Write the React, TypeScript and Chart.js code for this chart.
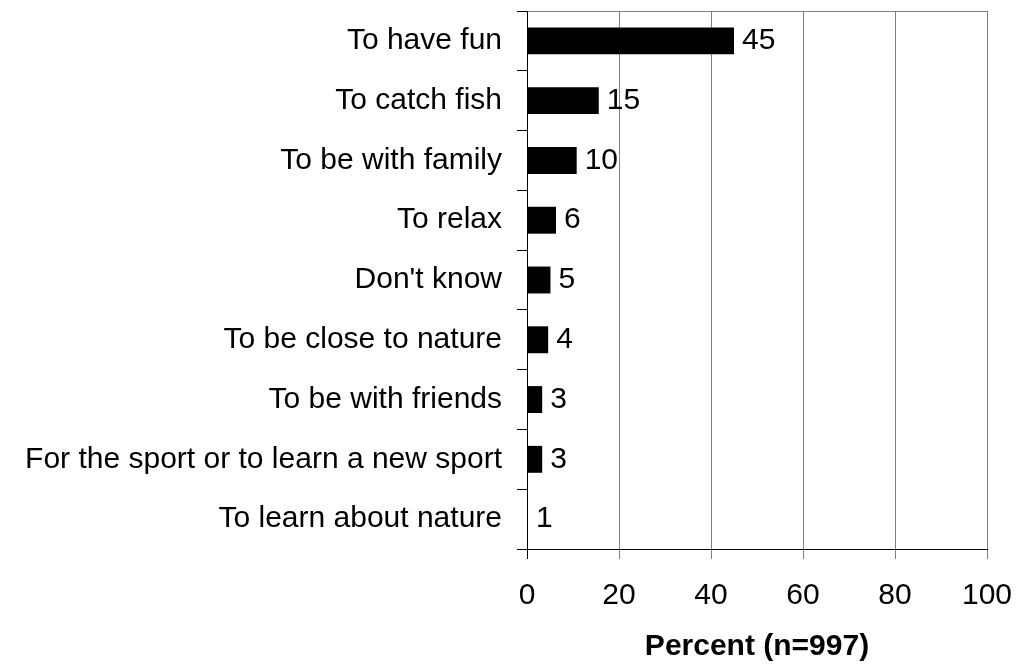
import React, { useEffect, useRef } from "react";
import { Chart, registerables } from "chart.js";

Chart.register(...registerables);

const categories = [
  "To have fun",
  "To catch fish",
  "To be with family",
  "To relax",
  "Don't know",
  "To be close to nature",
  "To be with friends",
  "For the sport or to learn a new sport",
  "To learn about nature",
];

// bar lengths as drawn (percent)
const barValues = [45.0, 15.6, 10.8, 6.3, 5.1, 4.6, 3.3, 3.3, 0.2];
// printed value labels
const valueLabels = ["45", "15", "10", "6", "5", "4", "3", "3", "1"];

const xTicks = [0, 20, 40, 60, 80, 100];
const xTitle = "Percent (n=997)";

const FONT = "'Liberation Sans', Arial, Helvetica, sans-serif";
const GRID = "#808080";

const valueLabelPlugin = {
  id: "valueLabels",
  afterDatasetsDraw(chart: any) {
    const ctx = chart.ctx;
    const meta = chart.getDatasetMeta(0);
    ctx.save();
    ctx.font = `30px ${FONT}`;
    ctx.fillStyle = "#000";
    ctx.textAlign = "left";
    ctx.textBaseline = "middle";
    meta.data.forEach((el: any, i: number) => {
      ctx.fillText(valueLabels[i], el.x + 8, el.y);
    });
    ctx.restore();
  },
};

const zeroPadding = (scale: any) => {
  scale.paddingTop = 0;
  scale.paddingBottom = 0;
  scale.paddingLeft = 0;
  scale.paddingRight = 0;
};

export default function App() {
  const ref = useRef<HTMLCanvasElement | null>(null);

  useEffect(() => {
    if (!ref.current) return;
    Chart.defaults.font.family = FONT;
    Chart.defaults.color = "#000";
    const chart = new Chart(ref.current, {
      type: "bar",
      data: {
        labels: categories,
        datasets: [
          {
            data: barValues,
            backgroundColor: "#000",
            borderWidth: 0,
            barPercentage: 0.45,
            categoryPercentage: 1,
          },
        ],
      },
      options: {
        indexAxis: "y",
        responsive: false,
        animation: false,
        devicePixelRatio: 1,
        layout: { padding: { top: 11, right: 31, bottom: 0, left: 0 } },
        plugins: {
          legend: { display: false },
          tooltip: { enabled: false },
          title: { display: false },
        },
        scales: {
          x: {
            type: "linear",
            min: 0,
            max: 100,
            afterFit: (scale: any) => {
              scale.height = 116;
              zeroPadding(scale);
            },
            afterBuildTicks: (scale: any) => {
              scale.ticks = xTicks.map((v) => ({ value: v }));
            },
            ticks: {
              font: { size: 30 },
              color: "#000",
              padding: 19,
              maxRotation: 0,
              autoSkip: false,
            },
            grid: {
              color: (c: any) => (c.index === 0 ? "#000" : GRID),
              tickColor: (c: any) => (c.index === 0 ? "#000" : GRID),
              tickLength: 10,
              lineWidth: 1,
            },
            border: { display: true, color: "#000", width: 1 },
            title: {
              display: true,
              text: xTitle,
              font: { size: 30, weight: "bold" },
              color: "#000",
              padding: { top: 0, bottom: 0 },
            },
          },
          y: {
            type: "category",
            offset: true,
            afterFit: (scale: any) => {
              scale.width = 527;
              zeroPadding(scale);
            },
            ticks: {
              font: { size: 30 },
              color: "#000",
              padding: 15,
              autoSkip: false,
            },
            grid: {
              offset: true,
              drawOnChartArea: true,
              color: (c: any) => (c.index === 0 ? GRID : "rgba(0,0,0,0)"),
              tickColor: "#000",
              tickLength: 10,
              lineWidth: 1,
            },
            border: { display: true, color: "#000", width: 1 },
          },
        },
      },
      plugins: [valueLabelPlugin],
    } as any);
    return () => chart.destroy();
  }, []);

  return (
    <div
      style={{
        position: "fixed",
        left: 0,
        top: 0,
        width: 1018,
        height: 665,
        background: "#fff",
      }}
    >
      <canvas ref={ref} width={1018} height={665} />
    </div>
  );
}
